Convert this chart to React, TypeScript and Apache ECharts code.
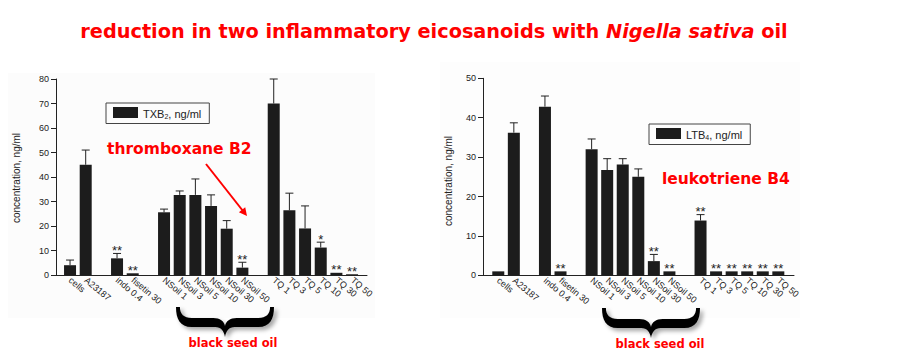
import React, { useEffect, useRef } from 'react';
import * as echarts from 'echarts';

// ---- data ----
const categories = ['cells', 'A23187', '', 'indo 0.4', 'fisetin 30', '', 'NSoil 1', 'NSoil 3', 'NSoil 5', 'NSoil 10', 'NSoil 30', 'NSoil 50', '', 'TQ 1', 'TQ 3', 'TQ 5', 'TQ 10', 'TQ 30', 'TQ 50'];

const txb2Values = [4, 45, null, 6.8, 0.7, null, 25.6, 32.7, 32.7, 28.2, 18.9, 3.0, null, 70, 26.4, 19.0, 11.2, 0.9, 0.3];
const txb2Errors = [2.1, 6, null, 2, 0, null, 1.3, 1.6, 6.5, 4.5, 3.3, 2.2, null, 10, 7, 9.2, 2.2, 0, 0];
const txb2Stars = ['', '', '', '**', '**', '', '', '', '', '', '', '**', '', '', '', '', '*', '**', '**'];

const ltb4Values = [1, 36.2, null, 42.8, 1.0, null, 32.0, 26.7, 28.1, 25.0, 3.6, 1.0, null, 13.9, 1.0, 1.0, 1.0, 1.0, 1.0];
const ltb4Errors = [0, 2.5, null, 2.7, 0, null, 2.6, 2.9, 1.5, 2.0, 1.7, 0, null, 1.5, 0, 0, 0, 0, 0];
const ltb4Stars = ['', '', '', '', '**', '', '', '', '', '', '**', '**', '', '**', '**', '**', '**', '**', '**'];

const txbTicks = { min: 0, max: 80, interval: 10 };
const ltbTicks = { min: 0, max: 50, interval: 10 };

const SANS = "'Liberation Sans Narrow', 'Liberation Sans', Arial, sans-serif";
const BOLD = "'DejaVu Sans', Verdana, sans-serif";
const RED = '#ff0000';
const INK = '#222';
const BAR = '#1c1c1c';

const BRACE_D =
  'M0 0 C0 12 4 20 16 20 L40 20 C46 20 49 24 50 30 C51 24 54 20 60 20 L84 20 C96 20 100 12 100 0 L96 0 C96 7 92 11 84 11 L62 11 C55 11 51 14 50 19 C49 14 45 11 38 11 L16 11 C8 11 4 7 4 0 Z';

let braceRegistered = false;
function ensureBrace() {
  if (!braceRegistered) {
    echarts.graphic.registerShape('brace', (echarts.graphic as any).extendPath(BRACE_D, {}));
    braceRegistered = true;
  }
}

function errorSeries(values: (number | null)[], errors: (number | null)[], stars: string[], xIdx: number, yIdx: number) {
  const data: number[][] = [];
  values.forEach((v, i) => {
    if (v !== null) data.push([i, v, errors[i] || 0]);
  });
  return {
    type: 'custom',
    xAxisIndex: xIdx,
    yAxisIndex: yIdx,
    silent: true,
    z: 5,
    encode: { x: 0, y: 1 },
    data,
    renderItem: (params: any, api: any) => {
      const i = api.value(0);
      const v = api.value(1);
      const e = api.value(2);
      const base = api.coord([i, v]);
      const top = api.coord([i, v + e]);
      const children: any[] = [];
      if (e > 0) {
        children.push({ type: 'line', shape: { x1: base[0], y1: base[1], x2: top[0], y2: top[1] }, style: { stroke: INK, lineWidth: 1 } });
        children.push({ type: 'line', shape: { x1: top[0] - 4, y1: top[1], x2: top[0] + 4, y2: top[1] }, style: { stroke: INK, lineWidth: 1 } });
      }
      const s = stars[i];
      if (s) {
        children.push({
          type: 'text',
          style: { text: s, x: top[0], y: top[1] - 3, align: 'center', verticalAlign: 'middle', fontSize: 13, fontFamily: "'Liberation Sans', Arial", fill: INK },
        });
      }
      return { type: 'group', children };
    },
  };
}

function lineAxisX(gridIndex: number) {
  return {
    type: 'value', gridIndex, min: 0, max: 1,
    axisLine: { show: true, onZero: false, lineStyle: { color: INK, width: 1 } },
    axisTick: { show: false }, axisLabel: { show: false }, splitLine: { show: false },
  };
}
function catAxisX(gridIndex: number) {
  return {
    type: 'category', gridIndex, data: categories,
    axisLine: { show: false }, axisTick: { show: false }, splitLine: { show: false },
    axisLabel: { interval: 0, rotate: -40, margin: 4, fontSize: 9, fontFamily: SANS, color: INK },
  };
}
function valAxisY(gridIndex: number, t: any, visible: boolean) {
  return {
    type: 'value', gridIndex, min: t.min, max: t.max, interval: t.interval,
    axisLine: { show: visible, onZero: false, lineStyle: { color: INK, width: 1 } },
    axisTick: { show: visible, length: 5, lineStyle: { color: INK } },
    axisLabel: { show: visible, fontSize: 9, margin: 7, fontFamily: SANS, color: INK },
    splitLine: { show: false },
  };
}

function legendFor(name: string, left: number, top: number, main: string, sub: string) {
  return {
    data: [name], left, top, orient: 'horizontal', selectedMode: false,
    itemWidth: 25, itemHeight: 11, icon: 'rect',
    padding: [4, 8, 4, 7], borderColor: '#444', borderWidth: 1,
    formatter: () => `{a|${main}}{s|${sub}}{a|, ng/ml}`,
    textStyle: {
      color: INK,
      rich: {
        a: { fontSize: 11, fontFamily: SANS, color: INK, verticalAlign: 'bottom', lineHeight: 14 },
        s: { fontSize: 7, fontFamily: SANS, color: INK, verticalAlign: 'bottom', lineHeight: 7 },
      },
    },
  };
}

export default function App() {
  const ref = useRef<HTMLDivElement>(null);
  useEffect(() => {
    document.body.style.margin = '0';
    ensureBrace();
    const chart = echarts.init(ref.current!, null, { renderer: 'svg' });
    const braceStyle = { fill: '#000', shadowColor: 'rgba(0,0,0,0.35)', shadowBlur: 4, shadowOffsetX: 3, shadowOffsetY: 3 };
    chart.setOption({
      animation: false,
      backgroundColor: '#fff',
      grid: [
        { left: 56, top: 79, width: 311, height: 196 },
        { left: 62.2, top: 79, width: 297.7, height: 196 },
        { left: 483, top: 78.3, width: 311, height: 197 },
        { left: 490.5, top: 78.3, width: 295.6, height: 197 },
      ],
      xAxis: [lineAxisX(0), catAxisX(1), lineAxisX(2), catAxisX(3)],
      yAxis: [valAxisY(0, txbTicks, true), valAxisY(1, txbTicks, false), valAxisY(2, ltbTicks, true), valAxisY(3, ltbTicks, false)],
      legend: [legendFor('TXB2', 106, 103, 'TXB', '2'), legendFor('LTB4', 649, 124, 'LTB', '4')],
      series: [
        { name: 'TXB2', type: 'bar', xAxisIndex: 1, yAxisIndex: 1, data: txb2Values, barWidth: 12, itemStyle: { color: BAR } },
        errorSeries(txb2Values, txb2Errors, txb2Stars, 1, 1),
        { name: 'LTB4', type: 'bar', xAxisIndex: 3, yAxisIndex: 3, data: ltb4Values, barWidth: 12, itemStyle: { color: BAR } },
        errorSeries(ltb4Values, ltb4Errors, ltb4Stars, 3, 3),
      ],
      graphic: [
        { type: 'rect', z: -10, shape: { x: 8, y: 73, width: 367, height: 245 }, style: { fill: '#fcfcfc' } },
        { type: 'rect', z: -10, shape: { x: 440, y: 62, width: 360, height: 256 }, style: { fill: '#fdfdfd' } },
        {
          type: 'text', x: 434, y: 31.5,
          style: {
            text: '{b|reduction in two inflammatory eicosanoids with }{i|Nigella sativa}{b| oil}',
            align: 'center', verticalAlign: 'middle',
            rich: {
              b: { fontSize: 19.3, fontWeight: 'bold', fontFamily: BOLD, fill: RED },
              i: { fontSize: 19.3, fontWeight: 'bold', fontStyle: 'italic', fontFamily: BOLD, fill: RED },
            },
          },
        },
        { type: 'text', x: 16, y: 178, rotation: Math.PI / 2, style: { text: 'concentration, ng/ml', align: 'center', verticalAlign: 'middle', fontSize: 10, fontFamily: "'Liberation Sans', Arial", fill: INK } },
        { type: 'text', x: 448, y: 181, rotation: Math.PI / 2, style: { text: 'concentration, ng/ml', align: 'center', verticalAlign: 'middle', fontSize: 10, fontFamily: "'Liberation Sans', Arial", fill: INK } },
        { type: 'text', x: 107, y: 149, style: { text: 'thromboxane B2', align: 'left', verticalAlign: 'middle', fontSize: 15.5, fontWeight: 'bold', fontFamily: BOLD, fill: RED } },
        { type: 'text', x: 662, y: 179, style: { text: 'leukotriene B4', align: 'left', verticalAlign: 'middle', fontSize: 15.5, fontWeight: 'bold', fontFamily: BOLD, fill: RED } },
        { type: 'line', shape: { x1: 206, y1: 164, x2: 243, y2: 211 }, style: { stroke: RED, lineWidth: 2 } },
        { type: 'polygon', shape: { points: [[247, 216], [238.9, 212.2], [245.2, 207.2]] }, style: { fill: RED } },
        { type: 'brace', x: 176, y: 307, scaleX: 0.98, scaleY: 1, style: braceStyle },
        { type: 'brace', x: 602, y: 308, scaleX: 0.98, scaleY: 1, style: braceStyle },
        { type: 'text', x: 233, y: 343, style: { text: 'black seed oil', align: 'center', verticalAlign: 'middle', fontSize: 11.5, fontWeight: 'bold', fontFamily: BOLD, fill: RED } },
        { type: 'text', x: 660, y: 344, style: { text: 'black seed oil', align: 'center', verticalAlign: 'middle', fontSize: 11.5, fontWeight: 'bold', fontFamily: BOLD, fill: RED } },
      ],
    });
    return () => chart.dispose();
  }, []);
  return <div ref={ref} style={{ width: 902, height: 357 }} />;
}
